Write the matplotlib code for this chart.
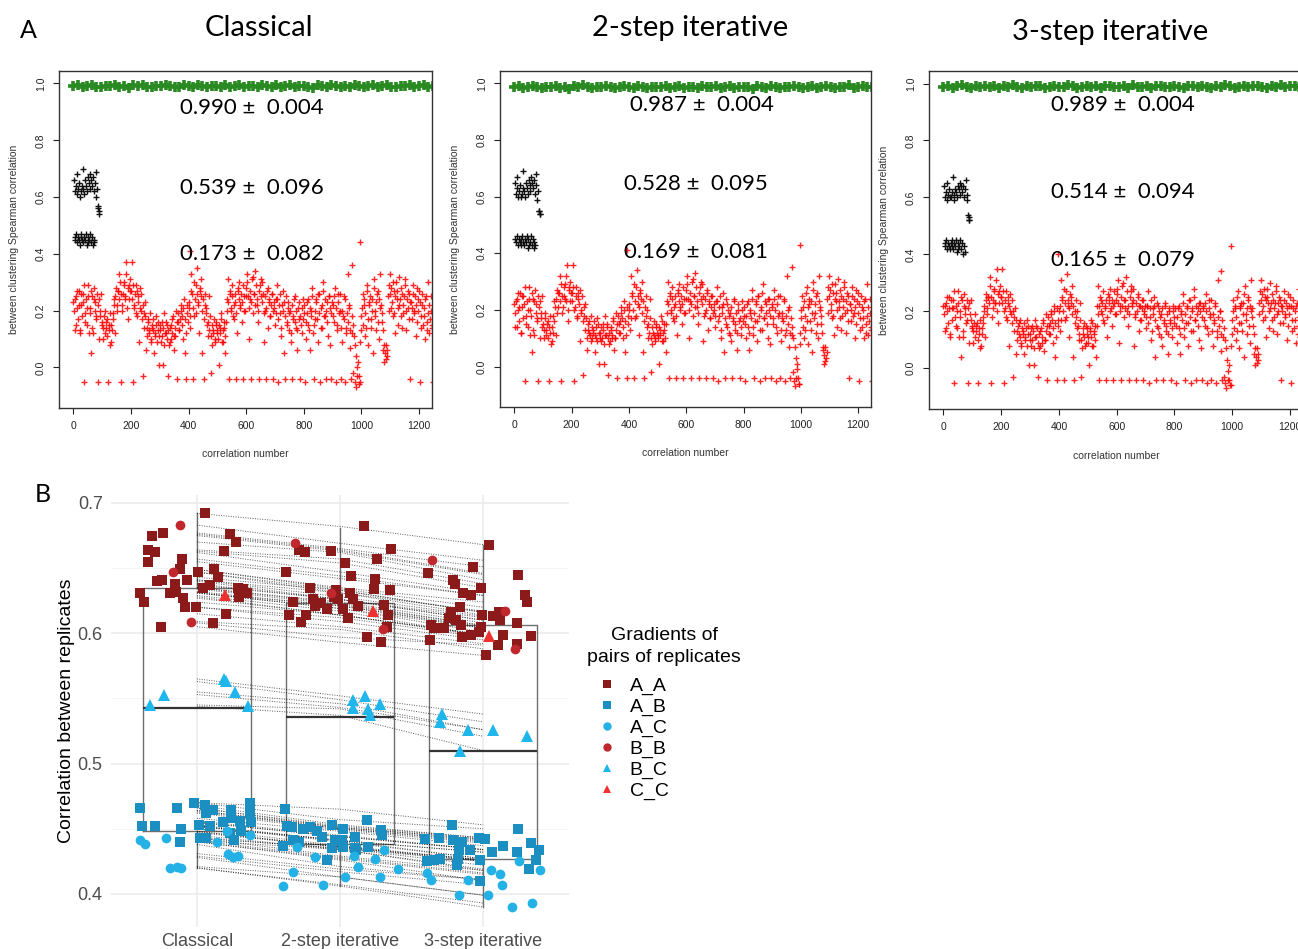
import numpy as np
import matplotlib.pyplot as plt
from matplotlib.lines import Line2D

plt.rcParams['font.family'] = ['Liberation Sans', 'DejaVu Sans']

# ------------------------------- A : values -------------------------------
# red +  : correlation between clusterings, read every 4 correlation numbers (x100),
# a first pass at 0,4,8,... and a second pass at 2,6,10,...
red_classical = [
    23, 13, 25, 21, 17, 27, 12, 22, 26, -5, 19, 24, 15, 29, 21, 5, 25, 12, 28, 23, 18, -5, 24, 20, 26,
    16, 10, 20, 14, 17, -5, 13, 8, 15, 19, 24, 12, 28, 22, 27, 33, -5, 20, 26, 30, 24, 37, 17, 29, 31,
    27, 37, -5, 22, 29, 18, 25, 9, 21, 26, -3, 19, 23, 6, 14, 17, 12, 9, 15, 13, 5, 11, 18, 16, 1,
    13, 9, 16, 1, 19, 12, 15, -3, 8, 14, 10, 17, 6, 11, 20, -4, 16, 13, 22, 18, 10, 24, 5, -4, 19,
    21, 14, 33, 26, -4, 18, 29, 35, 23, 12, 27, 31, 5, -4, 22, 19, 15, 11, 25, -2, 8, 13, 17, 10, 15,
    12, 1, 14, 19, 9, 13, 16, 5, 24, 31, -4, 26, 20, 29, 17, 23, -4, 12, 27, 30, 22, 16, -4, 25, 20,
    28, 33, 10, 24, -4, 31, 19, 26, 34, 22, 16, -4, 29, 25, 30, 9, 20, -4, 27, 14, 23, 18, 26, -4, 21,
    15, 24, 29, -5, 19, 11, 22, 27, 5, -4, 16, 23, 13, 20, 9, -4, 18, 25, 14, 6, 21, 17, -4, 12, 24,
    19, -5, 10, 23, 15, 6, 20, 28, 12, -4, 17, 24, 9, 26, -5, 21, 14, 30, 18, -4, 23, 11, 25, 8, -4,
    22, 16, 28, -5, 13, 26, 20, -4, 9, 18, 25, -5, 14, 33, 21, 7, -4, 12, -2, -5, -7, -3, 2, -6, 9,
    18, 26, 22, 11, 14, 29, 8, 23, 17, 24, 5, 31, 20, 13, 27, 10, 33, 22, 16, 6, 2, 8, 4, 25, 29,
    33, 21, 18, 27, 12, 30, 24, 15, 22, 28, 14, 19, 25, 31, 13, 21, 26, -4, 23, 17, 29, 20, 11, 16, 24,
    27, -5, 14, 22, 18, 10, 25, 16, 30, 12, 20, 15, -5]
red_classical_b = [
    20, 24, 15, 27, 22, 13, 26, 18, 23, 29, 16, 21, 25, 12, 19, 27, 14, 24, 20, 17, 26, 22, 10, 18, 15,
    14, 18, 12, 16, 11, 15, 19, 9, 13, 17, 22, 25, 20, 27, 24, 30, 26, 22, 29, 25, 33, 21, 28, 24, 27,
    24, 29, 21, 26, 19, 27, 23, 28, 20, 17, 22, 14, 18, 11, 16, 13, 19, 10, 14, 17, 12, 15, 9, 13, 11,
    15, 11, 14, 8, 12, 16, 10, 13, 9, 15, 12, 18, 11, 14, 16, 19, 13, 17, 20, 15, 21, 17, 12, 22, 16,
    23, 18, 27, 21, 30, 24, 19, 26, 22, 28, 25, 20, 24, 17, 26, 21, 16, 13, 18, 11, 15, 12, 9, 16, 13,
    10, 15, 12, 17, 9, 14, 11, 16, 20, 23, 27, 21, 25, 18, 22, 26, 19, 28, 24, 21, 26, 23, 29, 20, 25,
    30, 25, 21, 27, 23, 32, 26, 22, 29, 24, 20, 27, 31, 23, 26, 19, 25, 21, 28, 24, 18, 22, 26, 20, 23,
    19, 24, 17, 22, 26, 14, 20, 23, 18, 25, 15, 21, 19, 12, 22, 17, 24, 16, 20, 13, 23, 18, 15, 21, 17,
    22, 16, 19, 24, 13, 21, 18, 25, 15, 20, 23, 17, 26, 19, 14, 22, 27, 18, 24, 20, 16, 25, 21, 19, 23,
    18, 25, 21, 15, 23, 19, 26, 14, 20, 17, 24, 12, 19, 16, 22, 13, 18, 15, 11, 8, 4, 0, -3, -5, 13,
    21, 15, 24, 19, 27, 17, 22, 25, 14, 20, 28, 18, 23, 26, 16, 24, 21, 19, 13, 8, 5, 3, 6, 20, 26,
    28, 23, 30, 19, 25, 27, 21, 32, 24, 18, 26, 22, 29, 20, 24, 27, 17, 23, 21, 26, 19, 25, 22, 28, 20,
    23, 18, 26, 15, 21, 24, 13, 19, 22, 17, 25, 14]
red_2step = [
    22, 14, 24, 20, 16, 26, 12, 21, 25, -5, 18, 23, 14, 28, 20, 5, 24, 11, 27, 22, 17, -5, 23, 19, 25,
    15, 10, 19, 13, 16, -5, 12, 8, 14, 18, 23, 11, 27, 21, 26, 32, -5, 19, 25, 29, 23, 36, 16, 28, 30,
    26, 36, -5, 21, 28, 17, 24, 9, 20, 25, -3, 18, 22, 6, 13, 16, 11, 9, 14, 12, 5, 10, 17, 15, 1,
    12, 9, 15, 1, 18, 11, 14, -3, 8, 13, 10, 16, 6, 10, 19, -4, 15, 12, 21, 17, 10, 23, 5, -4, 18,
    20, 13, 32, 25, -4, 17, 28, 34, 22, 11, 26, 30, 5, -4, 21, 18, 14, 10, 24, -2, 8, 12, 16, 10, 14,
    11, 1, 13, 18, 9, 12, 15, 5, 23, 30, -4, 25, 19, 28, 16, 22, -4, 11, 26, 29, 21, 15, -4, 24, 19,
    27, 32, 10, 23, -4, 30, 18, 25, 33, 21, 15, -4, 28, 24, 29, 9, 19, -4, 26, 13, 22, 17, 25, -4, 20,
    14, 23, 28, -5, 18, 10, 21, 26, 5, -4, 15, 22, 12, 19, 9, -4, 17, 24, 13, 6, 20, 16, -4, 11, 23,
    18, -5, 10, 22, 14, 6, 19, 27, 11, -4, 16, 23, 9, 25, -5, 20, 13, 29, 17, -4, 22, 10, 24, 8, -4,
    21, 15, 27, -5, 12, 25, 19, -4, 9, 17, 24, -5, 13, 32, 20, 7, -4, 11, -2, -5, -7, -4, 1, -6, 8,
    17, 25, 21, 10, 13, 28, 8, 22, 16, 23, 5, 30, 19, 12, 26, 10, 32, 21, 15, 6, 1, 7, 3, 24, 28,
    32, 20, 17, 26, 11, 29, 23, 14, 21, 27, 13, 18, 24, 30, 12, 20, 25, -4, 22, 16, 28, 19, 10, 15, 23,
    26, -5, 13, 21, 17, 10, 24, 15, 29, 11, 19, 14, -5]
red_2step_b = [
    19, 23, 14, 26, 21, 12, 25, 17, 22, 28, 15, 20, 24, 11, 18, 26, 13, 23, 19, 16, 25, 21, 10, 17, 14,
    13, 17, 11, 15, 10, 14, 18, 9, 12, 16, 21, 24, 19, 26, 23, 29, 25, 21, 28, 24, 32, 20, 27, 23, 26,
    23, 28, 20, 25, 18, 26, 22, 27, 19, 16, 21, 13, 17, 10, 15, 12, 18, 10, 13, 16, 11, 14, 9, 12, 10,
    14, 10, 13, 8, 11, 15, 10, 12, 9, 14, 11, 17, 10, 13, 15, 18, 12, 16, 19, 14, 20, 16, 11, 21, 15,
    22, 17, 26, 20, 29, 23, 18, 25, 21, 27, 24, 19, 23, 16, 25, 20, 15, 12, 17, 10, 14, 11, 9, 15, 12,
    10, 14, 11, 16, 9, 13, 10, 15, 19, 22, 26, 20, 24, 17, 21, 25, 18, 27, 23, 20, 25, 22, 28, 19, 24,
    29, 24, 20, 26, 22, 31, 25, 21, 28, 23, 19, 26, 30, 22, 25, 18, 24, 20, 27, 23, 17, 21, 25, 19, 22,
    18, 23, 16, 21, 25, 13, 19, 22, 17, 24, 14, 20, 18, 11, 21, 16, 23, 15, 19, 12, 22, 17, 14, 20, 16,
    21, 15, 18, 23, 12, 20, 17, 24, 14, 19, 22, 16, 25, 18, 13, 21, 26, 17, 23, 19, 15, 24, 20, 18, 22,
    17, 24, 20, 14, 22, 18, 25, 13, 19, 16, 23, 11, 18, 15, 21, 12, 17, 14, 10, 7, 3, -1, -4, -6, 12,
    20, 14, 23, 18, 26, 16, 21, 24, 13, 19, 27, 17, 22, 25, 15, 23, 20, 18, 12, 7, 4, 2, 5, 19, 25,
    27, 22, 29, 18, 24, 26, 20, 31, 23, 17, 25, 21, 28, 19, 23, 26, 16, 22, 20, 25, 18, 24, 21, 27, 19,
    22, 17, 25, 14, 20, 23, 12, 18, 21, 16, 24, 13]
red_3step = [
    22, 13, 23, 20, 16, 25, 11, 21, 24, -5, 18, 22, 14, 27, 20, 4, 24, 11, 26, 21, 17, -5, 23, 19, 24,
    15, 9, 19, 13, 16, -5, 12, 7, 14, 18, 22, 11, 26, 21, 25, 32, -5, 18, 24, 28, 23, 35, 16, 27, 29,
    25, 35, -5, 21, 27, 17, 23, 8, 20, 24, -3, 18, 21, 5, 13, 16, 11, 8, 14, 12, 5, 10, 17, 15, 1,
    12, 8, 15, 1, 17, 11, 14, -3, 7, 13, 9, 16, 6, 10, 19, -4, 15, 12, 20, 17, 9, 22, 4, -4, 17,
    20, 13, 31, 24, -4, 17, 27, 33, 22, 11, 25, 29, 4, -4, 20, 18, 14, 10, 23, -3, 7, 12, 16, 9, 14,
    11, 1, 13, 17, 8, 12, 15, 4, 22, 29, -4, 24, 19, 27, 16, 22, -4, 11, 25, 28, 21, 15, -4, 23, 19,
    26, 31, 9, 22, -4, 29, 18, 24, 32, 20, 15, -4, 27, 23, 28, 8, 19, -4, 25, 13, 22, 17, 24, -4, 20,
    14, 22, 27, -5, 18, 10, 21, 25, 4, -4, 15, 22, 12, 19, 8, -4, 17, 23, 13, 5, 20, 16, -4, 11, 22,
    18, -5, 9, 21, 14, 5, 19, 26, 11, -4, 16, 22, 8, 24, -5, 20, 13, 28, 17, -4, 21, 10, 23, 7, -4,
    21, 15, 26, -5, 12, 24, 19, -4, 8, 17, 23, -5, 13, 31, 20, 6, -4, 11, -3, -5, -7, -4, 1, -6, 8,
    17, 24, 21, 10, 13, 27, 7, 22, 16, 23, 4, 29, 19, 12, 25, 9, 31, 21, 15, 5, 1, 7, 3, 23, 27,
    31, 20, 17, 25, 11, 28, 23, 14, 21, 26, 13, 18, 23, 29, 12, 20, 24, -4, 22, 16, 27, 19, 10, 15, 22,
    25, -5, 13, 21, 17, 9, 23, 15, 28, 11, 19, 14, -5]
red_3step_b = [
    19, 22, 14, 25, 21, 12, 24, 17, 21, 27, 15, 20, 23, 11, 18, 25, 13, 22, 19, 16, 24, 21, 9, 17, 14,
    13, 16, 11, 15, 10, 14, 17, 8, 12, 16, 20, 24, 19, 25, 23, 29, 25, 21, 27, 23, 31, 20, 26, 23, 25,
    23, 27, 20, 24, 18, 25, 22, 26, 19, 16, 20, 13, 17, 10, 15, 12, 17, 9, 13, 16, 11, 14, 8, 12, 10,
    14, 10, 13, 7, 11, 15, 9, 12, 8, 14, 11, 17, 10, 13, 15, 18, 12, 16, 19, 14, 20, 16, 11, 21, 15,
    22, 17, 25, 20, 28, 23, 18, 24, 21, 26, 23, 19, 22, 16, 24, 20, 15, 12, 17, 10, 14, 11, 8, 15, 12,
    9, 14, 11, 16, 8, 13, 10, 15, 19, 22, 25, 20, 23, 17, 21, 24, 18, 26, 23, 20, 24, 22, 27, 19, 24,
    28, 23, 20, 25, 22, 30, 24, 21, 27, 22, 19, 25, 29, 22, 24, 18, 23, 20, 26, 22, 17, 21, 24, 19, 22,
    18, 22, 16, 21, 24, 13, 19, 22, 17, 23, 14, 20, 18, 11, 21, 16, 22, 15, 19, 12, 21, 17, 14, 20, 16,
    21, 15, 18, 22, 12, 20, 17, 23, 14, 19, 21, 16, 24, 18, 13, 21, 25, 17, 22, 19, 15, 23, 20, 18, 22,
    17, 23, 20, 14, 21, 18, 24, 13, 19, 16, 22, 11, 18, 15, 20, 12, 17, 14, 10, 7, 3, -1, -4, -6, 12,
    20, 14, 22, 18, 25, 16, 21, 23, 13, 19, 26, 17, 21, 24, 15, 22, 20, 18, 12, 7, 4, 2, 5, 19, 24,
    26, 22, 28, 18, 24, 25, 20, 30, 23, 17, 24, 21, 27, 19, 23, 25, 16, 22, 20, 24, 18, 23, 21, 26, 19,
    22, 17, 24, 14, 20, 22, 12, 18, 21, 16, 23, 13]

# a few isolated high red points
red_hi_x = [[404, 994, 968], [395, 996, 968], [395, 996, 960]]
red_hi_y = [[0.41, 0.44, 0.36], [0.41, 0.43, 0.35], [0.40, 0.43, 0.34]]

# green +  : within clustering correlations, one value every 16 correlation numbers (x1000)
green_classical = [
    990, 993, 987, 991, 995, 989, 986, 992, 990, 994, 988, 991, 985, 993, 990, 996, 989, 987, 992, 990,
    994, 991, 986, 989, 993, 990, 988, 995, 991, 987, 990, 992, 989, 994, 986, 991, 993, 988, 990, 992,
    987, 995, 990, 989, 993, 986, 991, 994, 988, 990, 992, 989, 985, 993, 991, 988, 994, 990, 987, 992,
    989, 995, 991, 986, 990, 993, 988, 991, 994, 989, 987, 992, 990, 996, 988, 991, 993, 989, 990]
green_2step = [
    987, 990, 984, 988, 992, 986, 983, 989, 987, 991, 985, 988, 982, 990, 987, 993, 986, 984, 989, 987,
    991, 988, 983, 986, 990, 987, 985, 992, 988, 984, 987, 989, 986, 991, 983, 988, 990, 985, 987, 989,
    984, 992, 987, 986, 990, 983, 988, 991, 985, 987, 989, 986, 982, 990, 988, 985, 991, 987, 984, 989,
    986, 992, 988, 983, 987, 990, 985, 988, 991, 986, 984, 989, 987, 993, 985, 988, 990, 986, 987]
green_3step = [
    989, 992, 986, 990, 994, 988, 985, 991, 989, 993, 987, 990, 984, 992, 989, 995, 988, 986, 991, 989,
    993, 990, 985, 988, 992, 989, 987, 994, 990, 986, 989, 991, 988, 993, 985, 990, 992, 987, 989, 991,
    986, 994, 989, 988, 992, 985, 990, 993, 987, 989, 991, 988, 984, 992, 990, 987, 993, 989, 986, 991,
    988, 994, 990, 985, 989, 992, 987, 990, 993, 988, 986, 991, 989, 995, 987, 990, 992, 988, 989]

# black +  : correlations between replicates (upper cluster, lower cluster, B_C group)
black_up = [
    [.66, .62, .64, .68, .61, .63, .65, .60, .62, .64, .70, .63, .61, .66, .64, .62, .67, .65, .63, .68, .66, .64, .67, .62, .65, .69, .60, .63],
    [.65, .61, .63, .67, .60, .62, .64, .60, .61, .63, .69, .62, .60, .65, .63, .61, .66, .64, .62, .67, .65, .63, .66, .61, .64, .68, .59, .62],
    [.64, .60, .62, .65, .59, .61, .63, .60, .60, .62, .67, .61, .59, .63, .62, .60, .64, .63, .61, .65, .64, .62, .64, .60, .63, .66, .59, .61]]
black_lo = [
    [.46, .45, .47, .44, .46, .45, .43, .46, .47, .45, .44, .46, .45, .47, .43, .46, .44, .45, .47, .44, .46, .43, .45, .44],
    [.45, .44, .46, .43, .45, .44, .43, .45, .46, .44, .43, .45, .44, .46, .42, .45, .43, .44, .46, .43, .45, .42, .44, .43],
    [.44, .43, .45, .42, .44, .43, .42, .44, .45, .43, .42, .44, .43, .45, .41, .44, .42, .43, .45, .42, .44, .40, .43, .41]]
black_mid = [[.57, .56, .55, .54], [.55, .55, .54, .54], [.54, .53, .52, .52]]

methods = ['Classical', '2-step iterative', '3-step iterative']
mean_sd = [['0.990 \u00b1  0.004', '0.539 \u00b1  0.096', '0.173 \u00b1  0.082'],
           ['0.987 \u00b1  0.004', '0.528 \u00b1  0.095', '0.169 \u00b1  0.081'],
           ['0.989 \u00b1  0.004', '0.514 \u00b1  0.094', '0.165 \u00b1  0.079']]

# ------------------------------- B : correlation between replicates -------------------------------
# values per method [Classical, 2-step, 3-step]
aa_y = [[.692, .675, .677, .676, .670, .664, .662, .655, .657, .663, .649, .647, .649, .643, .640, .641, .638,
         .641, .635, .637, .631, .624, .631, .632, .627, .620, .620, .635, .634, .631, .628, .615, .608, .605],
        [.682, .664, .662, .663, .665, .657, .654, .647, .644, .642, .635, .634, .633, .626, .628, .631, .626,
         .624, .621, .619, .626, .619, .621, .622, .614, .614, .609, .612, .614, .605, .597, .593, .633, .623],
        [.668, .651, .646, .645, .641, .638, .631, .629, .635, .629, .624, .620, .616, .613, .616, .614, .612,
         .610, .610, .608, .606, .606, .604, .604, .605, .599, .598, .597, .599, .601, .595, .591, .592, .583]]
ab_y = [[.466, .466, .470, .468, .464, .464, .470, .462, .463, .452, .452, .450, .453, .458, .456, .455, .443,
         .443, .440, .441, .448, .447, .455, .452],
        [.465, .452, .451, .450, .451, .448, .444, .453, .450, .444, .457, .449, .445, .441, .440, .437, .441,
         .441, .435, .436, .435, .436, .426, .434],
        [.453, .450, .442, .443, .441, .440, .443, .442, .439, .434, .434, .437, .432, .432, .434, .425, .426,
         .427, .427, .426, .426, .422, .419, .410]]
ac_y = [[.441, .438, .443, .440, .448, .445, .431, .428, .429, .420, .421, .420],
        [.436, .428, .429, .434, .427, .417, .421, .419, .406, .407, .413, .413],
        [.416, .411, .411, .418, .415, .425, .418, .407, .399, .399, .390, .393]]
bb_y = [[.683, .647, .609], [.669, .631, .603], [.656, .617, .588]]
bc_y = [[.565, .563, .553, .555, .545, .544], [.549, .552, .546, .543, .542, .537],
        [.538, .532, .526, .526, .521, .510]]
cc_y = [[.629], [.617], [.598]]

# horizontal jitter of each point as seen in the picture
aa_jit = [[.06, -.316, -.235, .23, .27, -.34, -.29, -.34, -.105, .19, -.118, .01, .123, .15, -.28, -.247, -.15,
           -.072, .044, .09, -.40, -.37, -.19, -.149, -.095, -.08, -.007, .29, .32, .35, .295, .20, .11, -.25],
          [.17, -.288, -.246, -.065, .358, .258, .037, -.38, .079, .244, -.209, .237, .348, -.19, -.04, .07, .088,
           -.33, -.172, -.093, -.016, .023, .123, .309, -.358, -.237, -.27, .053, .332, .325, .188, .286, -.028, -.13],
          [.039, -.072, -.383, .242, -.207, -.195, -.142, -.086, -.014, .295, .304, -.16, -.221, .067, .114, -.009,
           -.235, -.188, .118, .235, -.365, -.153, -.342, -.272, -.014, .137, .337, -.149, -.084, -.03, -.374, .102,
           .235, .019]]
ab_jit = [[-.395, -.14, -.02, .055, .114, .237, .37, .067, .37, -.38, -.29, -.11, .016, .24, .30, .38, .02, .067,
           -.118, .258, .31, .23, .18, .09],
          [-.383, -.372, -.334, -.26, -.209, -.158, -.125, -.056, .023, .107, .186, .286, .293, -.325, -.283, -.395,
           -.037, .014, -.056, .023, .107, .193, -.093, .111],
          [-.218, .246, -.404, -.311, -.207, -.149, -.028, .014, .332, -.172, -.091, .137, .06, .235, .393, -.393,
           -.346, -.3, -.179, -.021, .369, -.184, .318, -.021]]
ac_jit = [[-.397, -.36, -.216, .14, .207, .37, .218, .253, .29, -.188, -.14, -.11],
          [-.302, -.177, .095, .307, .246, -.325, .125, .402, -.395, -.116, .035, .279],
          [-.393, -.365, -.107, .056, .118, .249, .397, .132, -.172, .033, .2, .344]]
bb_jit = [[-.118, -.167, -.04], [-.311, -.063, .297], [-.358, .153, .223]]
bc_jit = [[.19, .205, -.23, .267, -.325, .358], [.088, .172, .279, .088, .195, .209],
          [-.288, -.3, -.107, .072, .309, -.165]]
cc_jit = [[.195], [.232], [.044]]

# box plot statistics per method
box_lo = [0.420, 0.406, 0.390]
box_q1 = [0.448, 0.438, 0.427]
box_med = [0.543, 0.536, 0.510]
box_q3 = [0.635, 0.623, 0.606]
box_hi = [0.692, 0.681, 0.668]

W, H = 1298, 949
fig = plt.figure(figsize=(W / 100, H / 100), dpi=100)


def px_axes(left, top, right, bottom):
    return fig.add_axes([left / W, 1 - bottom / H, (right - left) / W, (bottom - top) / H])


def px_text(x, y, s, **kw):
    fig.text(x / W, 1 - y / H, s, **kw)


# ----------------------------------------- A : three R scatter plots -----------------------------------------
top_boxes = [(59, 71, 432, 408), (500, 71, 871, 407), (929, 71, 1303, 409)]
reds = [red_classical, red_2step, red_3step]
reds_b = [red_classical_b, red_2step_b, red_3step_b]
greens = [green_classical, green_2step, green_3step]
title_xy = [(259, 28), (690, 28), (1110, 32)]
text_xy = [[(180, 108), (180, 188), (180, 254)],
           [(630, 105), (624, 184), (624, 252)],
           [(1051, 105), (1051, 192), (1051, 260)]]
plus = dict(ls='none', marker='+', ms=5, mew=1.0)

for i in range(3):
    ax = px_axes(*top_boxes[i])
    g = np.array(greens[i]) / 1000
    r = np.array(reds[i]) / 100
    rb = np.array(reds_b[i]) / 100
    ax.plot(np.arange(len(g)) * 16, g, ls='none', marker='+', ms=7.5, mew=2.6, color='#2a8a22')
    ax.plot(np.arange(len(r)) * 4, r, color='#ff0000', alpha=0.85, **plus)
    ax.plot(np.arange(len(rb)) * 4 + 2, rb, color='#ff0000', alpha=0.85, **plus)
    ax.plot(red_hi_x[i], red_hi_y[i], color='#ff0000', alpha=0.85, **plus)
    ax.plot(np.arange(len(black_up[i])) * 3 + 2, black_up[i], color='#111111', **plus)
    ax.plot(np.arange(len(black_lo[i])) * 3 + 4, black_lo[i], color='#111111', **plus)
    ax.plot(np.arange(len(black_mid[i])) + 86, black_mid[i], color='#111111', **plus)

    ax.set_xlim(-50, 1245)
    ax.set_ylim(-0.143, 1.044)
    ax.set_xticks([0, 200, 400, 600, 800, 1000, 1200])
    ax.set_yticks([0.0, 0.2, 0.4, 0.6, 0.8, 1.0])
    ax.set_yticklabels(['0.0', '0.2', '0.4', '0.6', '0.8', '1.0'], rotation=90, va='center')
    ax.tick_params(direction='out', length=4.3, width=0.8, labelsize=7.5, pad=5, colors='#222222')
    for s in ax.spines.values():
        s.set_linewidth(1.0)
        s.set_color('#333333')
    ax.set_ylabel('between clustering Spearman correlation', fontsize=7.5, color='#333333')
    ax.yaxis.set_label_coords(-0.107, 0.5)
    ax.set_xlabel('correlation number', fontsize=7.5, color='#333333')
    ax.xaxis.set_label_coords(0.5, -0.123)

    px_text(*title_xy[i], methods[i], fontsize=21, family='Lato', ha='center', va='center')
    for (tx, ty), s in zip(text_xy[i], mean_sd[i]):
        px_text(tx, ty, s, fontsize=16, family='Lato', ha='left', va='center')

px_text(28, 31, 'A', fontsize=18, family='Lato', ha='center', va='center')
px_text(43, 494, 'B', fontsize=18, family='Lato', ha='center', va='center')

# ----------------------------------------- B : box plot with paired points -----------------------------------------
ax = px_axes(111, 495, 569, 927)
ax.set_xlim(0.4, 3.6)
ax.set_ylim(0.3746, 0.7061)
ax.set_yticks([0.4, 0.5, 0.6, 0.7])
ax.set_yticks([0.45, 0.55, 0.65], minor=True)
ax.set_xticks([1, 2, 3])
ax.set_xticklabels(methods)
ax.grid(which='major', color='#EBEBEB', lw=1.1)
ax.grid(which='minor', axis='y', color='#F2F2F2', lw=0.6)
ax.set_axisbelow(True)
for s in ax.spines.values():
    s.set_visible(False)
ax.tick_params(which='both', length=0, labelsize=13, labelcolor='#4D4D4D')
ax.tick_params(axis='y', pad=6)
ax.tick_params(axis='x', pad=4)
ax.set_ylabel('Correlation between replicates', fontsize=14)
ax.yaxis.set_label_coords(-0.079, 0.5)

stats = [dict(whislo=box_lo[k], q1=box_q1[k], med=box_med[k], q3=box_q3[k], whishi=box_hi[k], fliers=[])
         for k in range(3)]
ax.bxp(stats, positions=[1, 2, 3], widths=0.75, showcaps=False, showfliers=False, manage_ticks=False,
       boxprops=dict(color='#6e6e6e', lw=1.0), whiskerprops=dict(color='#6e6e6e', lw=1.0),
       medianprops=dict(color='#333333', lw=1.6))

groups = [
    ('A_A', aa_y, aa_jit, 's', '#8B1A1A', 7.5),
    ('A_B', ab_y, ab_jit, 's', '#1C8FC2', 7.5),
    ('A_C', ac_y, ac_jit, 'o', '#23B1E6', 7.0),
    ('B_B', bb_y, bb_jit, 'o', '#C0282D', 7.0),
    ('B_C', bc_y, bc_jit, '^', '#1FB6EC', 8.0),
    ('C_C', cc_y, cc_jit, '^', '#EE3030', 8.0),
]

# dotted lines linking the same pair of replicates across the three methods
for name, ys, jit, mk, col, ms in groups:
    s1, s2, s3 = [sorted(v, reverse=True) for v in ys]
    for a, b, c in zip(s1, s2, s3):
        ax.plot([1, 2, 3], [a, b, c], ls=(0, (1, 1.5)), lw=0.7, color='black', alpha=0.65, zorder=2)

handles = []
for name, ys, jit, mk, col, ms in groups:
    for k in range(3):
        ax.plot(np.array(jit[k]) + k + 1, ys[k], ls='none', marker=mk, ms=ms, color=col, mew=0, zorder=3)
    handles.append(Line2D([], [], ls='none', marker=mk, ms=6, color=col, mew=0))

# legend: title written apart so its gap to the keys matches the reference
px_text(664, 636, 'Gradients of', fontsize=14, ha='center', va='center')
px_text(664, 657, 'pairs of replicates', fontsize=14, ha='center', va='center')
leg = fig.legend(handles, [g[0] for g in groups], loc='upper left', bbox_to_anchor=(589 / W, 1 - 667 / H),
                 frameon=False, fontsize=14, handlelength=0.8, handletextpad=0.8,
                 labelspacing=0.17, borderpad=0)

plt.savefig('out.png', dpi=100)
